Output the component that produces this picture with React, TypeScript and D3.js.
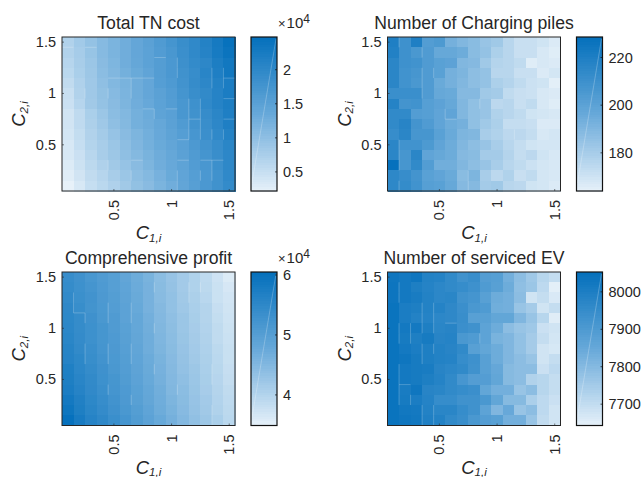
import React from "react";
import * as d3 from "d3";

// C1 / C2 grid centres
const c1Values = [0.1,0.2,0.3,0.4,0.5,0.6,0.7,0.8,0.9,1.0,1.1,1.2,1.3,1.4,1.5];
const c2Values = [1.5,1.4,1.3,1.2,1.1,1.0,0.9,0.8,0.7,0.6,0.5,0.4,0.3,0.2,0.1];
const axisTicks = [0.5, 1, 1.5];

// Total TN cost (x10^4)
const tnCost = [
[.70,.83,.96,1.08,1.18,1.28,1.40,1.50,1.62,1.75,1.88,1.98,2.12,2.28,2.45],
[.70,.80,.93,1.08,1.18,1.28,1.40,1.48,1.60,1.70,1.86,1.98,2.10,2.26,2.40],
[.66,.78,.90,1.06,1.15,1.28,1.38,1.48,1.58,1.68,1.84,1.95,2.02,2.20,2.32],
[.62,.76,.88,1.04,1.13,1.24,1.34,1.44,1.58,1.68,1.80,1.90,2.06,2.18,2.32],
[.56,.72,.86,1.00,1.12,1.20,1.30,1.40,1.56,1.64,1.78,1.92,2.02,2.12,2.22],
[.50,.70,.86,.98,1.08,1.18,1.30,1.40,1.50,1.60,1.74,1.88,1.96,2.10,2.22],
[.48,.66,.84,.96,1.06,1.16,1.28,1.36,1.48,1.58,1.70,1.82,1.98,2.10,2.20],
[.42,.58,.76,.90,1.04,1.12,1.24,1.32,1.46,1.52,1.70,1.80,1.92,2.04,2.18],
[.42,.58,.74,.86,1.00,1.10,1.24,1.30,1.38,1.50,1.62,1.78,1.88,2.02,2.18],
[.40,.54,.70,.82,.94,1.06,1.16,1.26,1.36,1.46,1.56,1.72,1.86,1.98,2.12],
[.36,.52,.68,.78,.90,1.02,1.14,1.24,1.34,1.42,1.52,1.66,1.78,1.90,2.05],
[.36,.48,.64,.78,.88,1.00,1.10,1.20,1.30,1.38,1.50,1.62,1.74,1.88,2.02],
[.32,.46,.60,.72,.84,.94,1.06,1.16,1.28,1.36,1.46,1.60,1.70,1.85,2.00],
[.28,.42,.56,.66,.78,.90,1.02,1.10,1.22,1.34,1.44,1.56,1.68,1.80,1.98],
[.22,.36,.52,.62,.72,.84,.98,1.06,1.18,1.28,1.42,1.54,1.68,1.80,1.95],
];

// Number of charging piles
const piles = [
[220,210,220,203,205,193,190,188,184,182,176,172,172,170,167],
[219,210,206,204,197,197,195,188,185,179,176,172,172,168,166],
[216,210,209,204,201,200,190,189,182,177,176,174,166,168,167],
[216,209,207,204,201,193,191,187,185,176,176,172,172,167,169],
[216,209,206,204,196,193,190,187,185,179,177,174,171,170,165],
[211,211,211,204,197,196,189,189,182,181,174,172,171,168,167],
[218,208,209,202,200,197,190,186,184,175,176,172,174,168,166],
[214,214,203,202,199,199,190,186,184,178,176,174,170,169,168],
[214,217,208,204,199,195,193,186,182,179,173,173,172,167,167],
[212,216,207,207,201,196,191,190,180,178,175,175,173,168,169],
[216,209,209,205,199,195,190,187,184,180,176,173,170,169,169],
[216,207,216,199,197,195,189,188,181,181,177,173,175,170,168],
[228,207,214,203,194,194,190,187,184,180,176,174,171,169,168],
[215,212,208,201,199,196,188,191,180,175,178,172,174,169,168],
[215,213,209,202,201,197,189,189,181,182,176,175,170,169,167],
];

// Comprehensive profit (x10^4)
const profit = [
[5.40,5.30,5.18,5.08,5.00,4.85,4.72,4.60,4.42,4.30,4.18,4.05,3.90,3.75,3.60],
[5.42,5.32,5.22,5.10,5.00,4.88,4.74,4.62,4.44,4.32,4.18,4.05,3.92,3.78,3.66],
[5.46,5.34,5.26,5.12,5.02,4.90,4.76,4.62,4.45,4.35,4.20,4.08,3.95,3.78,3.70],
[5.50,5.38,5.25,5.14,5.04,4.92,4.78,4.62,4.48,4.35,4.22,4.10,4.00,3.82,3.72],
[5.52,5.42,5.30,5.16,5.08,4.92,4.82,4.66,4.50,4.38,4.26,4.12,4.00,3.85,3.74],
[5.54,5.42,5.32,5.20,5.08,4.96,4.82,4.68,4.52,4.40,4.26,4.14,4.02,3.88,3.76],
[5.56,5.44,5.32,5.20,5.10,4.98,4.84,4.70,4.54,4.42,4.28,4.16,4.04,3.88,3.78],
[5.60,5.46,5.36,5.22,5.12,5.00,4.86,4.70,4.56,4.44,4.30,4.18,4.06,3.92,3.80],
[5.62,5.52,5.38,5.26,5.14,5.02,4.88,4.74,4.60,4.46,4.32,4.20,4.08,3.94,3.80],
[5.70,5.54,5.42,5.30,5.16,5.04,4.90,4.76,4.62,4.48,4.34,4.24,4.10,3.96,3.82],
[5.72,5.58,5.46,5.32,5.20,5.06,4.92,4.78,4.64,4.50,4.38,4.26,4.12,3.98,3.84],
[5.76,5.62,5.48,5.36,5.22,5.10,4.96,4.82,4.68,4.52,4.42,4.28,4.14,4.00,3.88],
[5.84,5.68,5.52,5.40,5.26,5.12,4.98,4.84,4.70,4.56,4.44,4.30,4.18,4.02,3.90],
[5.92,5.72,5.56,5.44,5.30,5.16,5.02,4.88,4.72,4.60,4.46,4.32,4.20,4.04,3.92],
[6.02,5.80,5.62,5.50,5.36,5.22,5.06,4.92,4.78,4.64,4.50,4.36,4.24,4.10,3.94],
];

// Number of serviced EV
const serviced = [
[8030,8020,8030,7990,7985,7960,7930,7945,7890,7885,7830,7790,7760,7720,7700],
[8035,8020,8000,7985,7970,7960,7950,7935,7900,7880,7840,7785,7765,7710,7650],
[8035,8020,8010,7990,7970,7975,7930,7920,7880,7840,7830,7790,7680,7700,7665],
[8040,8005,8000,7990,7985,7965,7940,7910,7900,7835,7830,7770,7750,7680,7700],
[8040,8005,7990,7985,7970,7965,7945,7880,7880,7860,7860,7810,7770,7720,7655],
[8040,8020,8020,8000,7975,7980,7940,7930,7870,7840,7790,7770,7760,7690,7680],
[8040,8015,8000,8015,7980,7985,7910,7900,7870,7820,7810,7780,7750,7700,7675],
[8040,8020,8005,8000,7990,7980,7960,7880,7860,7840,7810,7780,7750,7680,7670],
[8040,8030,8015,8000,7990,7985,7950,7935,7880,7840,7810,7790,7770,7680,7700],
[8040,8020,8015,8010,7980,7970,7960,7930,7880,7855,7800,7790,7790,7690,7710],
[8040,8020,8015,8000,7985,7960,7915,7890,7890,7860,7800,7790,7730,7720,7700],
[8040,8010,8030,7980,7975,7960,7950,7940,7860,7830,7830,7770,7790,7720,7700],
[8040,8015,8005,7985,7950,7950,7930,7930,7910,7860,7800,7800,7740,7710,7690],
[8040,8025,8020,7990,7975,7975,7950,7930,7870,7810,7850,7770,7790,7710,7680],
[8040,8030,8025,7995,7990,7960,7945,7910,7890,7880,7830,7830,7770,7705,7680],
];

// Colour limits and colourbar ticks
const tnClim = [0.22, 2.48];
const tnBarTicks = [0.5, 1, 1.5, 2];
const pilesClim = [164, 228.6];
const pilesBarTicks = [180, 200, 220];
const profitClim = [3.49, 6.05];
const profitBarTicks = [4, 5, 6];
const servicedClim = [7643, 8053];
const servicedBarTicks = [7700, 7800, 7900, 8000];

// Light seams between cells: vertical [column boundary, row], horizontal [row boundary, column]
const tnSeamsV = [[10,2],[10,3],[13,3],[13,4],[14,3],[14,4],[2,5],[4,5],[6,4],[6,5],[8,7],[11,6],[11,7],[12,6],[12,7],[12,8],[12,9],[11,8],[11,9],[13,9],[14,9],[4,12],[6,13],[10,13],[10,14],[12,13],[13,12],[13,13]];
const tnSeamsH = [[1,0],[1,2],[2,8],[4,4],[4,5],[4,6],[4,7],[4,14],[6,14],[7,7],[7,9],[8,11],[8,14],[10,10],[12,6],[12,10],[12,12],[12,13]];
const pilesSeamsV = [[1,0],[3,1],[3,3],[3,4],[3,5],[4,3],[5,7],[1,10],[1,11],[1,12],[7,13],[7,14],[1,14],[11,9],[8,6]];
const pilesSeamsH = [[8,5]];
const profitSeamsV = [[8,1],[1,2],[1,3],[2,4],[4,3],[4,4],[6,3],[6,4],[8,5],[2,7],[2,8],[4,7],[4,8],[6,7],[6,8],[8,9],[4,11],[10,11],[6,12],[13,9],[13,10],[13,13],[13,14],[11,1],[11,2],[12,1]];
const profitSeamsH = [[4,1]];
const servicedSeamsV = [[1,1],[1,2],[1,5],[1,6],[2,5],[2,6],[3,3],[3,4],[3,5],[4,3],[4,4],[4,5],[3,7],[3,8],[4,7],[1,9],[1,10],[1,11],[1,12],[2,12],[3,13],[3,14],[4,13],[4,14],[8,6]];
const servicedSeamsH = [[5,5],[11,1]];

const FONT = "'Liberation Sans', Arial, sans-serif";
const INK = "#262626";
const colorOf = d3.scaleLinear<string>()
  .domain([0, 0.5, 1])
  .range(["#e7f1f9", "#68a9d9", "#0470bc"])
  .clamp(true);

type P = {
  title: string; data: number[][]; clim: number[]; barTicks: number[]; exp?: boolean;
  left: number; top: number; bottom: number; seamsV: number[][]; seamsH: number[][];
};

const WIDTH = 173;
const BAR_GAP = 16;
const BAR_W = 26;

function Sub({ x, y, rotate, label }: { x: number; y: number; rotate?: boolean; label: string }) {
  return (
    <text x={0} y={0} transform={`translate(${x},${y})${rotate ? " rotate(-90)" : ""}`} textAnchor="middle"
      fontFamily={FONT} fontStyle="italic" fontSize={18.5} fill={INK}>
      C<tspan fontSize={11.5} dy={2.5}>{label}</tspan>
    </text>
  );
}

function Panel({ p }: { p: P }) {
  const { left, top, bottom, data, clim } = p;
  const right = left + WIDTH;
  const x = d3.scaleLinear().domain([0.05, 1.55]).range([left, right]);
  const y = d3.scaleLinear().domain([0.05, 1.55]).range([bottom, top]);
  const norm = d3.scaleLinear().domain(clim).range([0, 1]);
  const barX = right + BAR_GAP;
  const barY = d3.scaleLinear().domain(clim).range([bottom, top]);
  const barSteps = d3.range(64);
  const barStepH = (bottom - top) / barSteps.length;
  const cx = (left + right) / 2;
  const cy = (top + bottom) / 2;
  const hw = 0.05;
  return (
    <g>
      <g shapeRendering="crispEdges">
        {data.map((row, r) => row.map((v, c) => (
          <rect key={`${r}-${c}`} x={x(c1Values[c] - hw)} y={y(c2Values[r] + hw)}
            width={x(c1Values[c] + hw) - x(c1Values[c] - hw) + 0.6}
            height={y(c2Values[r] - hw) - y(c2Values[r] + hw) + 0.6}
            fill={colorOf(norm(v))} />
        )))}
      </g>
      {p.seamsV.map(([b, r], i) => (
        <line key={`v${i}`} x1={x(c1Values[0] - hw + b * 0.1)} x2={x(c1Values[0] - hw + b * 0.1)}
          y1={y(c2Values[r] + hw)} y2={y(c2Values[r] - hw)} stroke="#fff" strokeOpacity={0.28} strokeWidth={0.8} />
      ))}
      {p.seamsH.map(([r, c], i) => {
        const yy = y(c2Values[0] + hw - r * 0.1);
        return <line key={`h${i}`} x1={x(c1Values[c] - hw)} x2={x(c1Values[c] + hw)} y1={yy} y2={yy}
          stroke="#fff" strokeOpacity={0.28} strokeWidth={0.8} />;
      })}
      <rect x={left} y={top} width={WIDTH} height={bottom - top} fill="none" stroke={INK} strokeWidth={1} />
      {axisTicks.map(t => (
        <g key={t}>
          <line x1={x(t)} x2={x(t)} y1={bottom} y2={bottom - 2} stroke={INK} strokeWidth={0.6} />
          <line x1={left} x2={left + 2} y1={y(t)} y2={y(t)} stroke={INK} strokeWidth={0.6} />
          <text transform={`translate(${x(t) + 5},${bottom + 9}) rotate(-90)`} textAnchor="end"
            fontFamily={FONT} fontSize={14.5} fill={INK}>{t}</text>
          <text x={left - 6} y={y(t) + 5} textAnchor="end" fontFamily={FONT} fontSize={14.5} fill={INK}>{t}</text>
        </g>
      ))}
      <text x={cx} y={top - 8} textAnchor="middle" fontFamily={FONT} fontSize={17.6} fill={INK}>{p.title}</text>
      <Sub x={cx} y={bottom + 48} label="1,i" />
      <Sub x={left - 37} y={cy} rotate label="2,i" />

      <g shapeRendering="crispEdges">
        {barSteps.map(i => (
          <rect key={i} x={barX} y={bottom - (i + 1) * barStepH} width={BAR_W} height={barStepH + 0.6}
            fill={colorOf((i + 0.5) / barSteps.length)} />
        ))}
      </g>
      <line x1={barX + 1} y1={bottom - 8} x2={barX + BAR_W - 1} y2={top + 2} stroke="#fff" strokeOpacity={0.3} strokeWidth={0.8} />
      <rect x={barX} y={top} width={BAR_W} height={bottom - top} fill="none" stroke="#111" strokeWidth={1.2} />
      {p.barTicks.map(t => (
        <g key={t}>
          <line x1={barX + BAR_W - 2} x2={barX + BAR_W} y1={barY(t)} y2={barY(t)} stroke="#111" strokeWidth={0.7} />
          <text x={barX + BAR_W + 6} y={barY(t) + 5} fontFamily={FONT} fontSize={14.5} fill={INK}>{t}</text>
        </g>
      ))}
      {p.exp && (
        <text x={barX + BAR_W + 1} y={top - 9} fontFamily={FONT} fontSize={15} fill={INK}>
          <tspan fontSize={13}>×</tspan><tspan dx={1}>10</tspan><tspan fontSize={12} dy={-5}>4</tspan>
        </text>
      )}
    </g>
  );
}

const panels: P[] = [
  { title: "Total TN cost", data: tnCost, clim: tnClim, barTicks: tnBarTicks, exp: true, left: 62, top: 37, bottom: 191, seamsV: tnSeamsV, seamsH: tnSeamsH },
  { title: "Number of Charging piles", data: piles, clim: pilesClim, barTicks: pilesBarTicks, left: 387.5, top: 37, bottom: 191, seamsV: pilesSeamsV, seamsH: pilesSeamsH },
  { title: "Comprehensive profit", data: profit, clim: profitClim, barTicks: profitBarTicks, exp: true, left: 62, top: 272, bottom: 425.5, seamsV: profitSeamsV, seamsH: profitSeamsH },
  { title: "Number of serviced EV", data: serviced, clim: servicedClim, barTicks: servicedBarTicks, left: 387.5, top: 272, bottom: 425.5, seamsV: servicedSeamsV, seamsH: servicedSeamsH },
];

export default function App() {
  return (
    <svg width={644} height={477} style={{ position: "absolute", left: 0, top: 0, background: "#fff" }}>
      {panels.map(p => <Panel key={p.title} p={p} />)}
    </svg>
  );
}
